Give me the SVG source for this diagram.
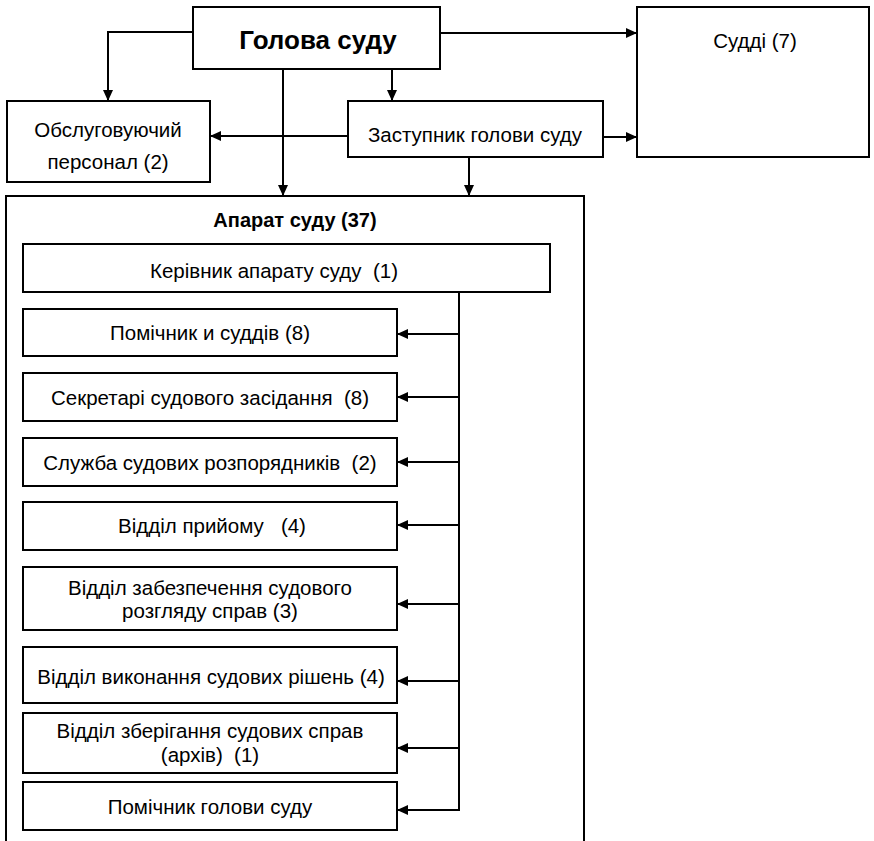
<svg xmlns="http://www.w3.org/2000/svg" width="874" height="841" viewBox="0 0 874 841">
<style>
.b{fill:#fff;stroke:#000;stroke-width:2}
.c{fill:none;stroke:#000;stroke-width:2}
text{font-family:"Liberation Sans",Arial,sans-serif;font-size:20.5px;fill:#000;text-anchor:middle;white-space:pre}
.h{font-size:26px;font-weight:bold}
.t{font-size:20px;font-weight:bold}
</style>
<defs>
<marker id="a" markerWidth="11" markerHeight="10" refX="11" refY="5" orient="auto" markerUnits="userSpaceOnUse">
<path d="M0,0 L11,5 L0,10 Z" fill="#000"/>
</marker>
</defs>
<g id="apparat"><rect class="b" x="6" y="196" width="578" height="660"/><text class="t" x="295" y="227">Апарат суду (37)</text></g>
<g id="golova"><rect class="b" x="193" y="7" width="247" height="62"/><text class="h" x="318" y="49">Голова суду</text></g>
<g id="suddi"><rect class="b" x="637" y="7" width="232" height="150"/><text x="755" y="48">Судді (7)</text></g>
<g id="obsl"><rect class="b" x="7" y="101" width="203" height="81"/><text x="108" y="137">Обслуговуючий</text><text x="108" y="169">персонал (2)</text></g>
<g id="zast"><rect class="b" x="348" y="101" width="255" height="56"/><text x="475" y="142">Заступник голови суду</text></g>
<g id="kerivnyk"><rect class="b" x="23" y="244" width="527" height="48"/><text x="274" y="278">Керівник апарату суду  (1)</text></g>
<g id="pomichnyky"><rect class="b" x="23" y="309" width="374" height="47"/><text x="210" y="340">Помічник и суддів (8)</text></g>
<g id="sekretari"><rect class="b" x="23" y="373" width="374" height="48"/><text x="210" y="405">Секретарі судового засідання  (8)</text></g>
<g id="sluzhba"><rect class="b" x="23" y="438" width="374" height="48"/><text x="210" y="470">Служба судових розпорядників  (2)</text></g>
<g id="pryiom"><rect class="b" x="23" y="502" width="374" height="48"/><text x="212" y="533">Відділ прийому   (4)</text></g>
<g id="zabezp"><rect class="b" x="23" y="567" width="374" height="63"/><text x="210" y="595">Відділ забезпечення судового</text><text x="210" y="618">розгляду справ (3)</text></g>
<g id="vykon"><rect class="b" x="23" y="647" width="374" height="56"/><text x="211" y="684">Відділ виконання судових рішень (4)</text></g>
<g id="zberig"><rect class="b" x="23" y="713" width="374" height="60"/><text x="210" y="738">Відділ зберігання судових справ</text><text x="210" y="762">(архів)  (1)</text></g>
<g id="pomgolovy"><rect class="b" x="23" y="782" width="374" height="48"/><text x="210" y="814">Помічник голови суду</text></g>
<g id="connectors">
<path class="c" d="M193,32 H108 V101" marker-end="url(#a)"/>
<path class="c" d="M440,33 H637" marker-end="url(#a)"/>
<path class="c" d="M283,69 V196" marker-end="url(#a)"/>
<path class="c" d="M392,69 V101" marker-end="url(#a)"/>
<path class="c" d="M348,136 H210" marker-end="url(#a)"/>
<path class="c" d="M603,137 H637" marker-end="url(#a)"/>
<path class="c" d="M469,157 V196" marker-end="url(#a)"/>
<path class="c" d="M459,292 V811"/>
<path class="c" d="M459,334 H397" marker-end="url(#a)"/>
<path class="c" d="M459,397 H397" marker-end="url(#a)"/>
<path class="c" d="M459,462 H397" marker-end="url(#a)"/>
<path class="c" d="M459,525 H397" marker-end="url(#a)"/>
<path class="c" d="M459,604 H397" marker-end="url(#a)"/>
<path class="c" d="M459,681 H397" marker-end="url(#a)"/>
<path class="c" d="M459,748 H397" marker-end="url(#a)"/>
<path class="c" d="M459,810 H397" marker-end="url(#a)"/>
</g>
</svg>
